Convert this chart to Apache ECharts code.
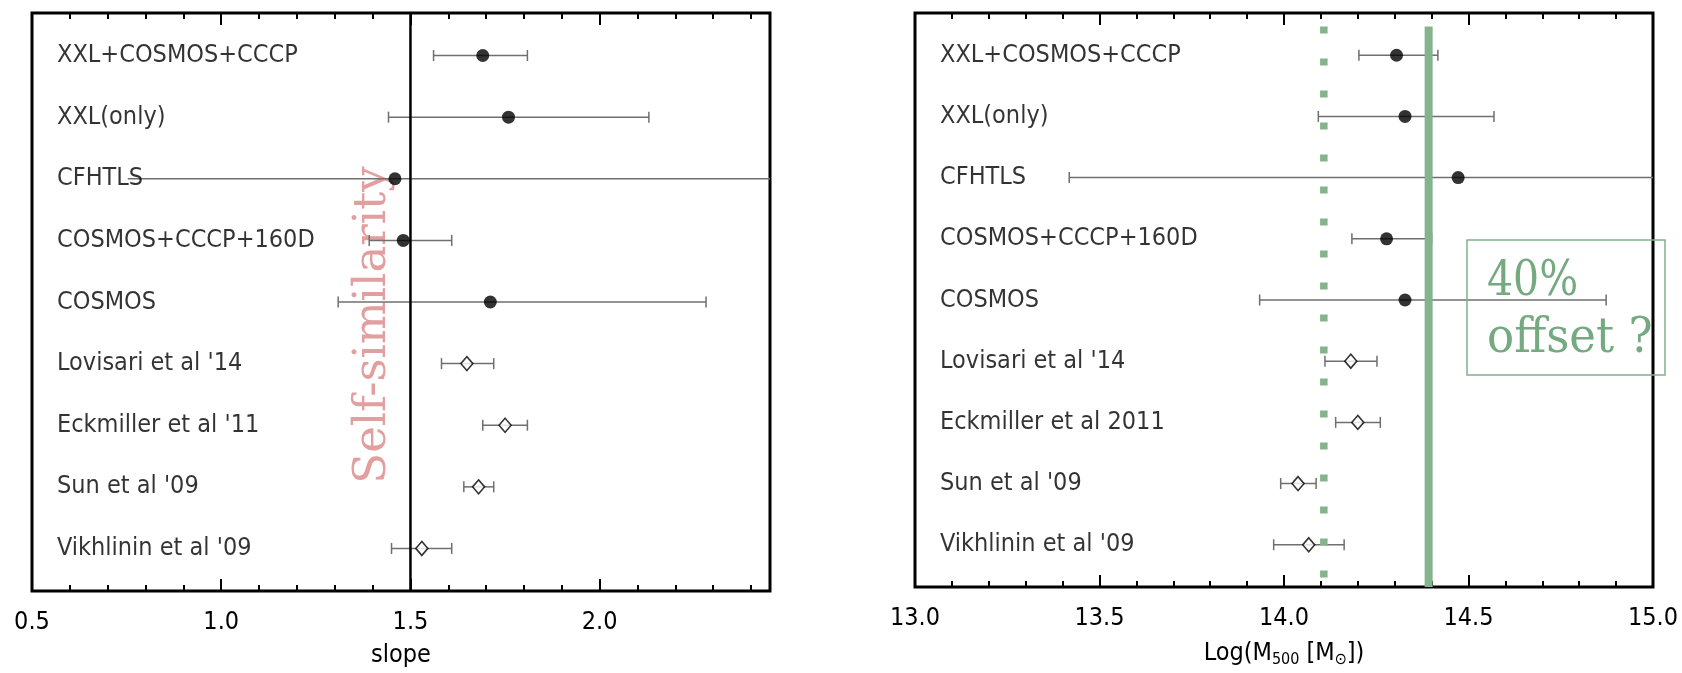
<!DOCTYPE html>
<html>
<head>
<meta charset="utf-8">
<script src="https://cdn.jsdelivr.net/npm/echarts@6/dist/echarts.min.js"></script>
<style>
html,body{margin:0;padding:0;background:#fff;}
#chart{width:1682px;height:673px;}
</style>
</head>
<body>
<div id="chart"></div>
<script>
// ---- data ----
const rowsLeft = ['XXL+COSMOS+CCCP','XXL(only)','CFHTLS','COSMOS+CCCP+160D','COSMOS',"Lovisari et al '14","Eckmiller et al '11","Sun et al '09","Vikhlinin et al '09"];
const rowsRight = ['XXL+COSMOS+CCCP','XXL(only)','CFHTLS','COSMOS+CCCP+160D','COSMOS',"Lovisari et al '14","Eckmiller et al 2011","Sun et al '09","Vikhlinin et al '09"];
const rowY = [9,8,7,6,5,4,3,2,1];
const markerKind = ['circle','circle','circle','circle','circle','diamond','diamond','diamond','diamond'];

const slopeVal = [1.691,1.759,1.459,1.481,1.711,1.649,1.750,1.680,1.530];
const slopeLo  = [1.561,1.442,0.753,1.391,1.309,1.582,1.691,1.641,1.450];
const slopeHi  = [1.809,2.130,2.600,1.609,2.281,1.720,1.809,1.720,1.609];
const slopeLoCap = [1,1,0,1,1,1,1,1,1];

const massVal = [14.305,14.328,14.472,14.278,14.328,14.181,14.200,14.038,14.067];
const massLo  = [14.203,14.093,13.418,14.184,13.934,14.111,14.140,13.991,13.972];
const massHi  = [14.417,14.569,15.200,14.400,14.873,14.252,14.261,14.087,14.163];
const massLoCap = [1,1,1,1,1,1,1,1,1];

const selfSimilarSlope = 1.5;
const massRefSolid = 14.392;
const massRefDotted = 14.108;

const slopeTicks = ['0.5','1.0','1.5','2.0'];
const massTicks = ['13.0','13.5','14.0','14.5','15.0'];

const slopeRange = [0.5, 2.45];
const massRange = [13.0, 15.0];
const yRange = [0.31, 9.69];
const guideTop = 9.47;

// ---- styling ----
const CF = "'DejaVu Sans Condensed','Liberation Sans Narrow','DejaVu Sans',sans-serif";
const SERIF = "'DejaVu Serif','Liberation Serif',serif";
const GREEN = '#84b48d';
const GREEN_TXT = '#75a980';
const PINK = '#e29f9f';

const chart = echarts.init(document.getElementById('chart'), null, {renderer:'canvas'});

function errRender(params, api){
  const y = api.value(2);
  const p1 = api.coord([api.value(0), y]);
  const p2 = api.coord([api.value(1), y]);
  const h = 5.5;
  const st = {stroke:'#6f6f6f', lineWidth:1.5};
  const ch = [{type:'line', shape:{x1:p1[0],y1:p1[1],x2:p2[0],y2:p2[1]}, style:st}];
  if (api.value(3)) ch.push({type:'line', shape:{x1:p1[0],y1:p1[1]-h,x2:p1[0],y2:p1[1]+h}, style:st});
  ch.push({type:'line', shape:{x1:p2[0],y1:p2[1]-h,x2:p2[0],y2:p2[1]+h}, style:st});
  return {type:'group', children:ch};
}

function xAxesFor(gi, range, labels, name){
  const common = {type:'value', gridIndex:gi, min:range[0], max:range[1], splitLine:{show:false}, axisLine:{show:false}};
  return [
    Object.assign({}, common, {position:'bottom', interval:0.5,
      axisTick:{show:true, inside:true, length:12, lineStyle:{color:'#000', width:2}},
      axisLabel:{show:true, margin:19, color:'#000', fontFamily:CF, fontSize:25, showMaxLabel: labels.length===5,
        formatter:function(v){ const s=v.toFixed(1); return labels.indexOf(s)>=0 ? s : ''; }},
      name:name, nameLocation:'middle', nameGap:52,
      nameTextStyle:{color:'#000', fontFamily:CF, fontSize:25,
        rich:{s:{fontFamily:CF, fontSize:16, color:'#000', padding:[13,0,0,0]}, n:{fontFamily:CF, fontSize:25, color:'#000'}}}
    }),
    Object.assign({}, common, {position:'bottom', interval:0.1,
      axisTick:{show:true, inside:true, length:6, lineStyle:{color:'#000', width:2}}, axisLabel:{show:false}}),
    Object.assign({}, common, {position:'top', interval:0.5,
      axisTick:{show:true, inside:true, length:12, lineStyle:{color:'#000', width:2}}, axisLabel:{show:false}}),
    Object.assign({}, common, {position:'top', interval:0.1,
      axisTick:{show:true, inside:true, length:6, lineStyle:{color:'#000', width:2}}, axisLabel:{show:false}})
  ];
}

function panelSeries(axBase, gi, names, val, lo, hi, loCap, xmin){
  const s = [];
  s.push({type:'custom', xAxisIndex:axBase, yAxisIndex:gi, renderItem:errRender, clip:true, z:3,
    encode:{x:[0,1], y:2}, silent:true,
    data: lo.map((l,i)=>[l, hi[i], rowY[i], loCap[i]])});
  s.push({type:'scatter', xAxisIndex:axBase, yAxisIndex:gi, symbol:'circle', symbolSize:13, z:6, silent:true,
    itemStyle:{color:'#000'},
    data: val.map((v,i)=>markerKind[i]==='circle'?[v,rowY[i]]:null).filter(d=>d)});
  s.push({type:'scatter', xAxisIndex:axBase, yAxisIndex:gi, symbol:'diamond', symbolSize:[12,14], z:6, silent:true,
    itemStyle:{color:'#fff', borderColor:'#000', borderWidth:1.6},
    data: val.map((v,i)=>markerKind[i]==='diamond'?[v,rowY[i]]:null).filter(d=>d)});
  s.push({type:'scatter', xAxisIndex:axBase, yAxisIndex:gi, symbolSize:0, z:7, silent:true,
    label:{show:true, position:'right', distance:25, formatter:'{b}', color:'#000', fontFamily:CF, fontSize:25},
    data: names.map((n,i)=>({name:n, value:[xmin, rowY[i]]}))});
  return s;
}

const series = [].concat(
  panelSeries(0, 0, rowsLeft, slopeVal, slopeLo, slopeHi, slopeLoCap, slopeRange[0]),
  panelSeries(4, 1, rowsRight, massVal, massLo, massHi, massLoCap, massRange[0]),
  [
    {type:'line', xAxisIndex:0, yAxisIndex:0, symbol:'none', z:5, silent:true,
      lineStyle:{color:'#000', width:2.5}, data:[[selfSimilarSlope, yRange[1]],[selfSimilarSlope, yRange[0]]]},
    {type:'line', xAxisIndex:4, yAxisIndex:1, symbol:'none', z:4, silent:true,
      lineStyle:{color:GREEN, width:8}, data:[[massRefSolid, guideTop],[massRefSolid, yRange[0]]]},
    {type:'line', xAxisIndex:4, yAxisIndex:1, symbol:'none', z:4, silent:true,
      lineStyle:{color:GREEN, width:7.5, type:[7,25], cap:'butt'}, data:[[massRefDotted, guideTop],[massRefDotted, yRange[0]]]}
  ]
);

const option = {
  animation:false,
  backgroundColor:'#fff',
  grid:[
    {left:32, top:13, width:738, height:582, show:true, borderColor:'#000', borderWidth:3, backgroundColor:'transparent'},
    {left:915, top:13, width:738, height:582, show:true, borderColor:'#000', borderWidth:3, backgroundColor:'transparent'}
  ],
  xAxis: [].concat(
    xAxesFor(0, slopeRange, slopeTicks, 'slope'),
    xAxesFor(1, massRange, massTicks, '{n|Log(M}{s|500}{n| [M}{s|⊙}{n|])}')
  ),
  yAxis:[
    {type:'value', gridIndex:0, min:yRange[0], max:yRange[1], show:false},
    {type:'value', gridIndex:1, min:yRange[0], max:yRange[1], show:false}
  ],
  series: series,
  graphic:[
    {type:'text', x:373, y:325, rotation:Math.PI/2, z:1, silent:true,
      style:{text:'Self-similarity', font:'45px '+SERIF, fill:PINK, textAlign:'center', textVerticalAlign:'middle', align:'center', verticalAlign:'middle'}},
    {type:'rect', z:10, silent:true, shape:{x:1467, y:240, width:198, height:135},
      style:{fill:'none', stroke:'#7fb38a', lineWidth:1.5}},
    {type:'text', x:1487, y:283, scaleY:1.17, z:10, silent:true,
      style:{text:'40%', font:'41px '+SERIF, fill:GREEN_TXT, textAlign:'left', textVerticalAlign:'middle', align:'left', verticalAlign:'middle'}},
    {type:'text', x:1487, y:339, scaleX:1.1, scaleY:1.2, z:10, silent:true,
      style:{text:'offset ?', font:'41px '+SERIF, fill:GREEN_TXT, textAlign:'left', textVerticalAlign:'middle', align:'left', verticalAlign:'middle'}}
  ]
};
chart.setOption(option);
</script>
</body>
</html>
